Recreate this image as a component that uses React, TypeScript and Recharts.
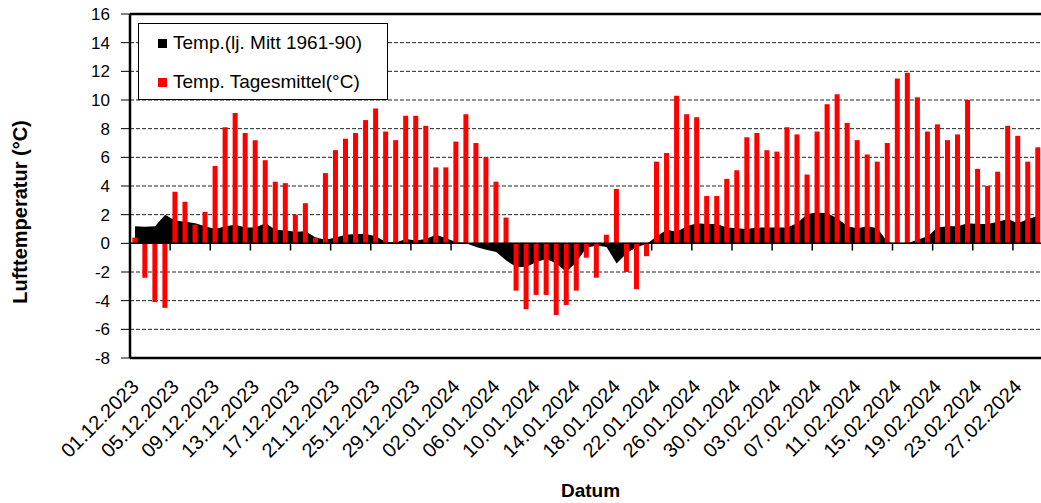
import {
  ComposedChart,
  Bar,
  Area,
  XAxis,
  YAxis,
  CartesianGrid,
  ReferenceLine,
  Legend,
} from "recharts";

const FONT = "'Liberation Sans', Arial, sans-serif";

const dates = [
  "01.12.2023", "02.12.2023", "03.12.2023", "04.12.2023", "05.12.2023", "06.12.2023", "07.12.2023",
  "08.12.2023", "09.12.2023", "10.12.2023", "11.12.2023", "12.12.2023", "13.12.2023", "14.12.2023",
  "15.12.2023", "16.12.2023", "17.12.2023", "18.12.2023", "19.12.2023", "20.12.2023", "21.12.2023",
  "22.12.2023", "23.12.2023", "24.12.2023", "25.12.2023", "26.12.2023", "27.12.2023", "28.12.2023",
  "29.12.2023", "30.12.2023", "31.12.2023",
  "01.01.2024", "02.01.2024", "03.01.2024", "04.01.2024", "05.01.2024", "06.01.2024", "07.01.2024",
  "08.01.2024", "09.01.2024", "10.01.2024", "11.01.2024", "12.01.2024", "13.01.2024", "14.01.2024",
  "15.01.2024", "16.01.2024", "17.01.2024", "18.01.2024", "19.01.2024", "20.01.2024", "21.01.2024",
  "22.01.2024", "23.01.2024", "24.01.2024", "25.01.2024", "26.01.2024", "27.01.2024", "28.01.2024",
  "29.01.2024", "30.01.2024", "31.01.2024",
  "01.02.2024", "02.02.2024", "03.02.2024", "04.02.2024", "05.02.2024", "06.02.2024", "07.02.2024",
  "08.02.2024", "09.02.2024", "10.02.2024", "11.02.2024", "12.02.2024", "13.02.2024", "14.02.2024",
  "15.02.2024", "16.02.2024", "17.02.2024", "18.02.2024", "19.02.2024", "20.02.2024", "21.02.2024",
  "22.02.2024", "23.02.2024", "24.02.2024", "25.02.2024", "26.02.2024", "27.02.2024", "28.02.2024",
  "29.02.2024",
];

// Temp. Tagesmittel (°C)
const tagesmittel = [
  0.4, -2.4, -4.1, -4.5, 3.6, 2.9, 1.3, 2.2, 5.4, 8.1, 9.1, 7.7, 7.2, 5.8, 4.3, 4.2,
  2.0, 2.8, 0.4, 4.9, 6.5, 7.3, 7.7, 8.6, 9.4, 7.8, 7.2, 8.9, 8.9, 8.2, 5.3,
  5.3, 7.1, 9.0, 7.0, 6.0, 4.3, 1.8, -3.3, -4.6, -3.6, -3.6, -5.0, -4.3, -3.3, -1.0,
  -2.4, 0.6, 3.8, -2.0, -3.2, -0.9, 5.7, 6.3, 10.3, 9.0, 8.8, 3.3, 3.3, 4.5, 5.1, 7.4,
  7.7, 6.5, 6.4, 8.1, 7.6, 4.8, 7.8, 9.7, 10.4, 8.4, 7.2, 6.2, 5.7, 7.0, 11.5,
  11.9, 10.2, 7.8, 8.3, 7.2, 7.6, 10.0, 5.2, 4.0, 5.0, 8.2, 7.5, 5.7, 6.7,
];

// Temp. langjähriges Mittel 1961-90
const mittel6190 = [
  1.2, 1.15, 1.2, 2.0, 1.6, 1.5, 1.4, 1.2, 1.0, 1.2, 1.3, 1.1, 1.1, 1.4, 0.95, 0.9,
  0.8, 0.85, 0.4, 0.25, 0.4, 0.6, 0.65, 0.65, 0.5, 0.1, 0.05, 0.3, 0.2, 0.3, 0.6,
  0.35, 0.1, 0.0, -0.25, -0.45, -0.6, -1.2, -1.65, -1.65, -1.3, -1.1, -1.4, -2.0, -1.3, -0.3,
  -0.15, -0.25, -1.4, -0.7, -0.25, -0.05, 0.5, 0.95, 0.8, 1.2, 1.4, 1.35, 1.35, 1.1, 1.05, 1.0,
  1.1, 1.1, 1.1, 1.1, 1.4, 2.05, 2.15, 2.1, 1.75, 1.2, 1.05, 1.2, 1.05, 0.1, -0.05,
  0.0, 0.25, 0.5, 1.1, 1.2, 1.2, 1.4, 1.35, 1.35, 1.5, 1.7, 1.4, 1.7, 1.9,
];

const labelDates = [
  "01.12.2023", "05.12.2023", "09.12.2023", "13.12.2023", "17.12.2023", "21.12.2023",
  "25.12.2023", "29.12.2023", "02.01.2024", "06.01.2024", "10.01.2024", "14.01.2024",
  "18.01.2024", "22.01.2024", "26.01.2024", "30.01.2024", "03.02.2024", "07.02.2024",
  "11.02.2024", "15.02.2024", "19.02.2024", "23.02.2024", "27.02.2024",
];

const yTicks = [-8, -6, -4, -2, 0, 2, 4, 6, 8, 10, 12, 14, 16];

const data = dates.map((date, i) => ({
  date,
  tag: tagesmittel[i],
  mittel: mittel6190[i],
}));

const DateTick = ({ x, y, payload }: any) => (
  <g transform={`translate(${x + 5},${y + 28})`}>
    <text textAnchor="end" transform="rotate(-45)" fontSize={20} fontFamily={FONT} fill="#000">
      {payload.value}
    </text>
  </g>
);

const LegendBox = () => (
  <div
    style={{
      position: "relative",
      width: 250,
      height: 77,
      boxSizing: "border-box",
      border: "1px solid #000",
      background: "#fff",
      fontFamily: FONT,
      fontSize: 19,
      color: "#000",
      lineHeight: "20px",
    }}
  >
    <div style={{ position: "absolute", left: 19, top: 9, display: "flex", alignItems: "center", whiteSpace: "nowrap" }}>
      <span style={{ display: "inline-block", width: 9, height: 9, background: "#000", marginRight: 6 }} />
      Temp.(lj. Mitt 1961-90)
    </div>
    <div style={{ position: "absolute", left: 19, top: 48, display: "flex", alignItems: "center", whiteSpace: "nowrap" }}>
      <span style={{ display: "inline-block", width: 9, height: 9, background: "#ff0000", marginRight: 6 }} />
      Temp. Tagesmittel(°C)
    </div>
  </div>
);

export default function App() {
  return (
    <div
      style={{
        position: "absolute",
        left: 0,
        top: 0,
        width: 1041,
        height: 503,
        overflow: "hidden",
        background: "#fff",
      }}
    >
      <ComposedChart
        width={1043}
        height={503}
        data={data}
        margin={{ top: 14, right: 0, bottom: 0, left: 0 }}
        barCategoryGap="23%"
      >
        <CartesianGrid vertical={false} stroke="#222" strokeDasharray="4 2" />
        <XAxis
          dataKey="date"
          ticks={labelDates}
          interval={0}
          tickLine={false}
          tickSize={0}
          axisLine={false}
          height={145}
          tick={<DateTick />}
          label={{
            value: "Datum",
            position: "insideBottom",
            offset: 6,
            dx: 4,
            style: { fontFamily: FONT, fontSize: 19, fontWeight: "bold", fill: "#000" },
          }}
        />
        <YAxis
          width={130}
          domain={[-8, 16]}
          ticks={yTicks}
          interval={0}
          tickSize={9}
          tickMargin={11}
          tickLine={{ stroke: "#000" }}
          axisLine={{ stroke: "#000", strokeWidth: 2.5 }}
          tick={{ fontFamily: FONT, fontSize: 17, fill: "#000" }}
          label={{
            value: "Lufttemperatur (°C)",
            angle: -90,
            position: "center",
            dx: -45,
            dy: 26,
            style: { fontFamily: FONT, fontSize: 20, fontWeight: "bold", fill: "#000" },
          }}
        />
        <Legend
          layout="vertical"
          align="center"
          verticalAlign="middle"
          wrapperStyle={{ left: 138, top: 23, width: 250, height: 77 }}
          content={<LegendBox />}
        />
        <Area
          type="linear"
          dataKey="mittel"
          name="Temp.(lj. Mitt 1961-90)"
          baseValue={0}
          fill="#000"
          fillOpacity={1}
          stroke="none"
          isAnimationActive={false}
        />
        <Bar dataKey="tag" name="Temp. Tagesmittel(°C)" fill="#ff0000" isAnimationActive={false} />
        <ReferenceLine y={0} stroke="#000" strokeWidth={1.5} />
        {labelDates.slice(1).map((d) => (
          <ReferenceLine
            key={d}
            segment={[
              { x: d, y: 0 },
              { x: d, y: -0.5 },
            ]}
            position="start"
            stroke="#000"
            strokeWidth={1.5}
          />
        ))}
        <ReferenceLine y={16} stroke="#000" strokeWidth={2.5} />
        <ReferenceLine y={-8} stroke="#000" strokeWidth={2.5} />
      </ComposedChart>
    </div>
  );
}
